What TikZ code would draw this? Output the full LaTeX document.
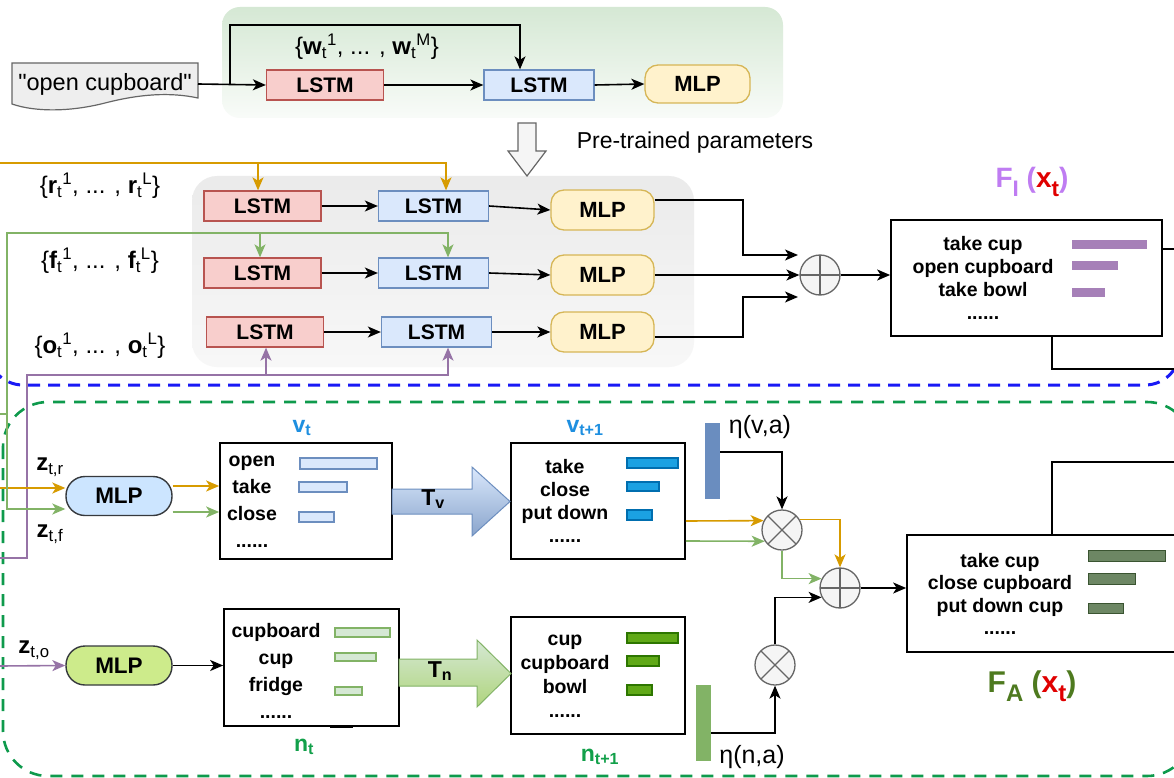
\documentclass[tikz,border=0pt]{standalone}
\usepackage{fontspec}
\usepackage{graphicx}
\setmainfont{Liberation Sans}
\usetikzlibrary{arrows.meta}

\definecolor{lstmRf}{HTML}{F8CECC}\definecolor{lstmRd}{HTML}{B85450}
\definecolor{lstmBf}{HTML}{DAE8FC}\definecolor{lstmBd}{HTML}{6C8EBF}
\definecolor{mlpYf}{HTML}{FFF2CC}\definecolor{mlpYd}{HTML}{D6B656}
\definecolor{mlpVf}{HTML}{CCE5FF}\definecolor{mlpNf}{HTML}{CDEB8B}
\definecolor{mlpD}{HTML}{36393D}
\definecolor{opF}{HTML}{F5F5F5}\definecolor{opD}{HTML}{666666}
\definecolor{orC}{HTML}{D79B00}\definecolor{grC}{HTML}{82B366}
\definecolor{puC}{HTML}{9673A6}
\definecolor{vbarF}{HTML}{DAE8FC}\definecolor{vbarD}{HTML}{6C8EBF}
\definecolor{vobarF}{HTML}{1BA1E2}\definecolor{vobarD}{HTML}{006EAF}
\definecolor{nbarF}{HTML}{D5E8D4}\definecolor{nbarD}{HTML}{82B366}
\definecolor{nobarF}{HTML}{60A917}\definecolor{nobarD}{HTML}{2D7600}
\definecolor{fiBar}{HTML}{A680B8}
\definecolor{faBar}{HTML}{6D8764}\definecolor{faBarD}{HTML}{3A5431}
\definecolor{etaV}{HTML}{6A8DBF}\definecolor{etaN}{HTML}{82B366}
\definecolor{fiC}{HTML}{BF7CF2}\definecolor{faC}{HTML}{4E7A1F}
\definecolor{xC}{HTML}{E00000}
\definecolor{vC}{HTML}{1E8FE0}\definecolor{nC}{HTML}{12A04A}
\definecolor{blueDash}{HTML}{1A1AF5}\definecolor{greenDash}{HTML}{0E9A4C}
\definecolor{docF}{HTML}{EEEEEE}

% six-dot ellipsis used as the last entry of each list
\newcommand\sixdots{......}
% large lowered subscript for the output labels
\newcommand\bigsub[1]{\raisebox{-0.3em}{\scalebox{0.8}{#1}}}

\begin{document}
\begin{tikzpicture}[x=1pt,y=-1pt,
  lstmr/.style={draw=lstmRd, fill=lstmRf, line width=1.3pt, minimum width=117pt,
    minimum height=30pt, inner sep=0pt, font=\fontsize{21}{21}\selectfont\bfseries},
  lstmb/.style={lstmr, draw=lstmBd, fill=lstmBf, minimum width=110pt},
  mlpy/.style={draw=mlpYd, fill=mlpYf, rounded corners=13pt, line width=1.3pt,
    minimum width=103pt, minimum height=40pt, inner sep=0pt,
    font=\fontsize{22}{22}\selectfont\bfseries},
  mlpz/.style={draw=mlpD, rounded corners=19pt, line width=1.4pt,
    minimum width=106pt, minimum height=39pt, inner sep=0pt,
    font=\fontsize{22.5}{22.5}\selectfont\bfseries},
  listbox/.style={draw=black, line width=1.7pt, inner sep=0pt},
  ltxt/.style={anchor=base, inner sep=0pt, font=\fontsize{19.5}{19.5}\selectfont\bfseries},
  setlab/.style={inner sep=0pt, font=\fontsize{24}{24}\selectfont},
  zlab/.style={inner sep=0pt, font=\fontsize{24}{24}\selectfont\bfseries},
  statelab/.style={inner sep=0pt, font=\fontsize{23}{23}\selectfont\bfseries},
  etalab/.style={inner sep=0pt, font=\fontsize{25}{25}\selectfont},
  op/.style={circle, draw=opD, fill=opF, line width=1.3pt, minimum size=40pt, inner sep=0pt},
  oplus/.style={op, path picture={\draw[opD, line width=1.1pt]
      (path picture bounding box.north) -- (path picture bounding box.south)
      (path picture bounding box.west) -- (path picture bounding box.east);}},
  otimes/.style={op, path picture={\draw[opD, line width=1.1pt]
      (path picture bounding box.north west) -- (path picture bounding box.south east)
      (path picture bounding box.north east) -- (path picture bounding box.south west);}},
  arr/.style={-{Stealth[length=13pt,width=11pt,inset=3.5pt]}, line width=1.6pt},
  conn/.style={line width=1.6pt},
  etabar/.style={minimum width=15pt, minimum height=76pt, inner sep=0pt},
]
\useasboundingbox (0,0) rectangle (1174,778);
\clip (0,0) rectangle (1174,778);
\fill[white] (0,0) rectangle (1174,778);

% ---------- backgrounds ----------
\shade[top color=nbarF, bottom color=white!85!nbarF, rounded corners=18pt]
  (222,7) rectangle (783,118);
\shade[top color=black!8, bottom color=black!3, rounded corners=25pt]
  (192,176) rectangle (694,367);

% ---------- group frames ----------
\draw[blueDash, line width=3pt, dash pattern=on 12pt off 8pt, rounded corners=35pt]
  (-12,-25) rectangle (1180,385);
\draw[greenDash, line width=2.6pt, dash pattern=on 12pt off 9pt, rounded corners=45pt]
  (3,402) rectangle (1192,776);

% ---------- language model (top) ----------
\filldraw[fill=docF, draw=opD, line width=1.2pt]
  (12,63) -- (198,63) -- (198,98) .. controls (170,92) and (140,94) .. (105,103)
  .. controls (70,112) and (35,112) .. (12,104) -- cycle;
\node[inner sep=0pt, font=\fontsize{23.5}{23.5}\selectfont] (doc) at (105,84)
  {\textquotedbl open cupboard\textquotedbl};
\node[lstmr] (lt1) at (325,85) {LSTM};
\node[lstmb] (lt2) at (539,85) {LSTM};
\node[mlpy, minimum width=105pt, minimum height=38pt] (mt) at (697.5,84) {MLP};
\coordinate (br) at (230,85);
\node[setlab] (wlab) at (367,47)
  {\{\textbf{w}\textsubscript{t}\textsuperscript{1}, ... , \textbf{w}\textsubscript{t}\textsuperscript{M}\}};
\draw[arr] (doc.east -| 198,0) -- (lt1.west);
\draw[arr] (br) -- ++(0,-60) -| ([xshift=-19pt]lt2.north);
\draw[arr] (lt1.east) -- (lt2.west);
\draw[arr] (lt2.east) -- (mt.west);

% transfer arrow
\filldraw[fill=opF, draw=opD, line width=1.2pt]
  (518,123) -- (536,123) -- (536,151) -- (546,151) -- (527,176) -- (508,151)
  -- (518,151) -- cycle;
\node[inner sep=0pt, font=\fontsize{23}{23}\selectfont] (pre) at (695,143) {Pre-trained parameters};

% ---------- instruction branches ----------
\node[lstmr] (r1) at (262.5,206) {LSTM};
\node[lstmb] (b1) at (433.5,206) {LSTM};
\node[mlpy] (m1) at (602.5,210) {MLP};
\node[lstmr] (r2) at (262.5,273) {LSTM};
\node[lstmb] (b2) at (433.5,273) {LSTM};
\node[mlpy] (m2) at (602.5,275) {MLP};
\node[lstmr] (r3) at (265,332) {LSTM};
\node[lstmb] (b3) at (436.5,332) {LSTM};
\node[mlpy] (m3) at (602.5,332) {MLP};
\foreach \i in {1,2,3}{
  \draw[arr] (r\i.east) -- (b\i.west);
  \draw[arr] (b\i.east) -- (m\i.west);
}

\node[setlab] (rlab) at (100,186)
  {\{\textbf{r}\textsubscript{t}\textsuperscript{1}, ... , \textbf{r}\textsubscript{t}\textsuperscript{L}\}};
\node[setlab] (flab) at (100,261)
  {\{\textbf{f}\textsubscript{t}\textsuperscript{1}, ... , \textbf{f}\textsubscript{t}\textsuperscript{L}\}};
\node[setlab] (olab) at (100,346)
  {\{\textbf{o}\textsubscript{t}\textsuperscript{1}, ... , \textbf{o}\textsubscript{t}\textsuperscript{L}\}};

% inputs
\coordinate (oin) at (0,163);
\coordinate (oin2) at (0,488);
\coordinate (gin) at (0,414);
\coordinate (gk) at (7,414);
\coordinate (pin) at (0,558);
\coordinate (pin2) at (0,666);

\draw[arr, orC] (oin) -| ([xshift=12.5pt]b1.north);
\draw[arr, orC] ([xshift=-4.5pt]r1.north) ++(0,-28.5) -- ([xshift=-4.5pt]r1.north);

\draw[conn, grC] (gin) -- (gk);
\draw[arr, grC] (gk) -- ++(0,-181) -| ([xshift=14.5pt]b2.north);
\draw[arr, grC] ([xshift=-2.5pt]r2.north) ++(0,-25) -- ([xshift=-2.5pt]r2.north);

\draw[arr, puC] (pin) -- ++(27,0) -- ++(0,-183) -| ([xshift=11.5pt]b3.south);
\draw[arr, puC] ([xshift=1pt]r3.south) ++(0,28) -- ([xshift=1pt]r3.south);

% fusion of instruction branches
\node[oplus] (sumI) at (820,275) {};
\coordinate (sIn1) at (798,255);
\coordinate (sIn3) at (798,297);
\draw[arr] ([yshift=10pt]m1.east) -- ++(88.5,0) |- (sIn1);
\draw[arr] (m2.east) -- (sumI.west);
\draw[arr] ([yshift=-5pt]m3.east) -- ++(88.5,0) |- (sIn3);

\node[listbox, minimum width=271pt, minimum height=116pt] (FI) at (1026.5,278) {};
\draw[arr] (sumI.east) -- (sumI.east -| FI.west);
\foreach \t [count=\i] in {take cup, open cupboard, take bowl, \sixdots}
  \node[ltxt] (fiw\i) at (983,{250+23*(\i-1)}) {\t};
\fill[fiBar] (1072,240) rectangle (1147,249);
\fill[fiBar] (1072,261) rectangle (1118,270);
\fill[fiBar] (1072,288) rectangle (1105,297);
\node[inner sep=0pt, font=\fontsize{28}{28}\selectfont\bfseries] (filab) at (1032,182)
  {\textcolor{fiC}{F\bigsub{I} (}\textcolor{xC}{x\bigsub{t}}\textcolor{fiC}{)}};
\coordinate (fiR) at (1180,249);
\coordinate (fiB) at (1180,369);
\draw[conn] ([yshift=29pt]FI.east) -- (fiR);
\draw[conn] ([xshift=25.5pt]FI.south) |- (fiB);

% ---------- verb / noun anticipation (bottom) ----------
\node[mlpz, fill=mlpVf] (mlpv) at (119,496) {MLP};
\node[mlpz, fill=mlpNf] (mlpn) at (119,665.5) {MLP};

\node[zlab] (zr) at (50,467) {z\textsubscript{\mdseries t,r}};
\node[zlab] (zf) at (50,534) {z\textsubscript{\mdseries t,f}};
\node[zlab] (zo) at (34,650) {z\textsubscript{\mdseries t,o}};

\draw[arr, orC] (oin2) -- ([yshift=8pt]mlpv.west);
\draw[arr, grC] (gk) |- ([yshift=-13pt]mlpv.west);
\draw[arr, puC] (pin2) -- (mlpn.west);

% verb distributions
\node[listbox, minimum width=172pt, minimum height=116pt] (vt) at (306,501) {};
\node[listbox, minimum width=174pt, minimum height=116pt] (vt1) at (598,501) {};
\node[statelab, text=vC] (vtlab) at (302,428) {v\textsubscript{t}};
\node[statelab, text=vC] (vt1lab) at (585,428) {v\textsubscript{t+1}};
\foreach \t [count=\i] in {open, take, close, \sixdots}
  \node[ltxt] (vtw\i) at (252,{466+27*(\i-1)}) {\t};
\filldraw[fill=vbarF, draw=vbarD, line width=1.1pt] (300,458) rectangle (377,469);
\filldraw[fill=vbarF, draw=vbarD, line width=1.1pt] (299,482) rectangle (347,492);
\filldraw[fill=vbarF, draw=vbarD, line width=1.1pt] (299,512) rectangle (334,522);
\foreach \t [count=\i] in {take, close, put down, \sixdots}
  \node[ltxt] (vtaw\i) at (565,{473+23*(\i-1)}) {\t};
\filldraw[fill=vobarF, draw=vobarD, line width=1.1pt] (627,458) rectangle (678,468);
\filldraw[fill=vobarF, draw=vobarD, line width=1.1pt] (627,482) rectangle (659,491);
\filldraw[fill=vobarF, draw=vobarD, line width=1.1pt] (627,510) rectangle (652,520);

\draw[arr, orC] ([yshift=10pt]mlpv.east) -- ([yshift=15pt]vt.west);
\draw[arr, grC] ([yshift=-16pt]mlpv.east) -- ([yshift=-11pt]vt.west);

\shade[top color=lstmBf, bottom color=lstmBd!80, draw=lstmBd, line width=1pt]
  (392,489) -- (472,489) -- (472,467) -- (510,501.5) -- (472,536) -- (472,514)
  -- (392,514) -- cycle;
\node[inner sep=0pt, font=\fontsize{23}{23}\selectfont\bfseries] (tv) at (433,499)
  {T\textsubscript{v}};

% noun distributions
\node[listbox, minimum width=175pt, minimum height=117pt] (nt) at (311.5,667.5) {};
\node[listbox, minimum width=174pt, minimum height=117pt] (nt1) at (598,675.5) {};
\draw[line width=3pt] (330,726) -- (353,726);
\node[statelab, text=nC] (ntlab) at (304,747) {n\textsubscript{t}};
\node[statelab, text=nC] (nt1lab) at (600,757) {n\textsubscript{t+1}};
\foreach \t [count=\i] in {cupboard, cup, fridge, \sixdots}
  \node[ltxt] (ntw\i) at (276,{637+27*(\i-1)}) {\t};
\filldraw[fill=nbarF, draw=nbarD, line width=1.1pt] (335,628) rectangle (390,637);
\filldraw[fill=nbarF, draw=nbarD, line width=1.1pt] (335,653) rectangle (376,661);
\filldraw[fill=nbarF, draw=nbarD, line width=1.1pt] (335,687) rectangle (362,695);
\foreach \t [count=\i] in {cup, cupboard, bowl, \sixdots}
  \node[ltxt] (ntaw\i) at (565,{645+24*(\i-1)}) {\t};
\filldraw[fill=nobarF, draw=nobarD, line width=1.1pt] (627,633) rectangle (678,643);
\filldraw[fill=nobarF, draw=nobarD, line width=1.1pt] (627,656) rectangle (659,666);
\filldraw[fill=nobarF, draw=nobarD, line width=1.1pt] (627,685) rectangle (652,695);

\draw[arr] (mlpn.east) -- (mlpn.east -| nt.west);

\shade[top color=nbarF, bottom color=mlpNf!60!grC, draw=grC, line width=1pt]
  (399,659) -- (477,659) -- (477,640) -- (511,673.5) -- (477,707) -- (477,686)
  -- (399,686) -- cycle;
\node[inner sep=0pt, font=\fontsize{23}{23}\selectfont\bfseries] (tn) at (440,671)
  {T\textsubscript{n}};

% weighting and fusion
\node[etabar, fill=etaV] (etav) at (712.5,461) {};
\node[etabar, fill=etaN] (etan) at (703.5,723) {};
\node[etalab] (etavlab) at (760,427) {η(v,a)};
\node[etalab] (etanlab) at (752,757) {η(n,a)};

\node[otimes] (mulv) at (782,530) {};
\node[otimes] (muln) at (775,665) {};
\node[oplus] (addA) at (840,588) {};

\draw[arr] ([yshift=9pt]etav.east) -| (mulv.north);
\draw[arr] ([yshift=-10pt]etan.east) -| (muln.south);
\draw[arr, orC] ([yshift=-20pt]vt1.east) -- (mulv.153);
\draw[arr, grC] ([yshift=-40pt]vt1.east) -- (mulv.213);
\draw[arr, orC] (mulv.30) -| (addA.north);
\draw[arr, grC] (mulv.south) |- (addA.153);
\draw[arr] (muln.north) |- (addA.207);

\node[listbox, minimum width=290pt, minimum height=117pt] (FA) at (1052,593.5) {};
\draw[arr] (addA.east) -- (addA.east -| FA.west);
\foreach \t [count=\i] in {take cup, close cupboard, put down cup, \sixdots}
  \node[ltxt] (faw\i) at (1000,{567+22.5*(\i-1)}) {\t};
\filldraw[fill=faBar, draw=faBarD, line width=0.9pt] (1088,550) rectangle (1165,561);
\filldraw[fill=faBar, draw=faBarD, line width=0.9pt] (1088,573) rectangle (1135,584);
\filldraw[fill=faBar, draw=faBarD, line width=0.9pt] (1088,603) rectangle (1123,613);
\node[inner sep=0pt, font=\fontsize{30}{30}\selectfont\bfseries] (falab) at (1032,686)
  {\textcolor{faC}{F\bigsub{A} (}\textcolor{xC}{x\bigsub{t}}\textcolor{faC}{)}};
\coordinate (faT) at (1180,462);
\draw[conn] (FA.north) |- (faT);
\end{tikzpicture}
\end{document}
